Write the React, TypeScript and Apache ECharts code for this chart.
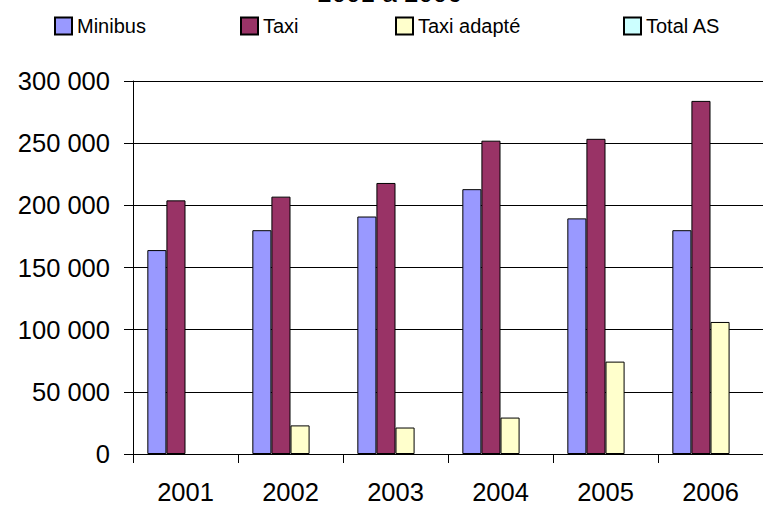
import React, { useEffect, useRef } from "react";
import * as echarts from "echarts";

const categories = ["2001", "2002", "2003", "2004", "2005", "2006"];
const minibus = [164000, 180000, 191000, 213000, 189500, 180000];
const taxi = [204000, 207000, 218000, 252000, 253500, 284000];
const taxiAdapte = [null, 23000, 21300, 29300, 74300, 106200];
const totalAS = [null, null, null, null, null, null];
const seriesNames = ["Minibus", "Taxi", "Taxi adapté", "Total AS"];
const seriesColors = ["#9999FF", "#993366", "#FFFFCC", "#CCFFFF"];
const legendLefts = [54, 240, 395, 623];
const titleText = "2001 à 2006";

const FONT = "'Liberation Sans', Arial, sans-serif";

function fmt(v: number): string {
  return String(v).replace(/\B(?=(\d{3})+(?!\d))/g, " ");
}

export default function App() {
  const ref = useRef<HTMLDivElement>(null);
  useEffect(() => {
    document.body.style.margin = "0";
    if (!ref.current) return;
    const chart = echarts.init(ref.current, undefined, { renderer: "svg" });
    const dataSets = [minibus, taxi, taxiAdapte, totalAS];
    chart.setOption({
      animation: false,
      backgroundColor: "#ffffff",
      graphic: [
        {
          type: "text",
          x: 389.5,
          y: -7.5,
          style: {
            text: titleText,
            fill: "#000",
            font: `26px ${FONT}`,
            textAlign: "center",
            textVerticalAlign: "middle",
          },
        },
      ],
      legend: seriesNames.map((n, i) => ({
        data: [n],
        left: legendLefts[i],
        top: 16,
        padding: 0,
        itemWidth: 17,
        itemHeight: 17,
        icon: "rect",
        selectedMode: false,
        textStyle: { fontFamily: FONT, fontSize: 20, color: "#000" },
      })),
      grid: { left: 133, top: 81, width: 633, height: 376, containLabel: false },
      xAxis: {
        type: "category",
        data: categories,
        axisLine: { show: true, lineStyle: { color: "#000", width: 1 } },
        axisTick: { show: true, length: 9, lineStyle: { color: "#000", width: 1 } },
        axisLabel: { fontFamily: FONT, fontSize: 25.5, color: "#000", margin: 25 },
        splitLine: { show: false },
      },
      yAxis: {
        type: "value",
        min: 0,
        max: 300000,
        interval: 50000,
        axisLine: { show: true, lineStyle: { color: "#000", width: 1 } },
        axisTick: { show: true, length: 9, lineStyle: { color: "#000", width: 1 } },
        axisLabel: {
          fontFamily: FONT,
          fontSize: 25.5,
          color: "#000",
          margin: 23,
          formatter: (v: number) => fmt(v),
        },
        splitLine: { show: true, lineStyle: { color: "#000", width: 1 } },
      },
      series: seriesNames.map((n, i) => ({
        name: n,
        type: "bar",
        data: dataSets[i],
        barGap: "0%",
        barCategoryGap: "27.3%",
        itemStyle: { color: seriesColors[i], borderColor: "#000", borderWidth: 1 },
      })),
    });
    return () => chart.dispose();
  }, []);
  return (
    <div
      ref={ref}
      style={{ position: "absolute", left: 0, top: 0, width: 763, height: 505 }}
    />
  );
}
